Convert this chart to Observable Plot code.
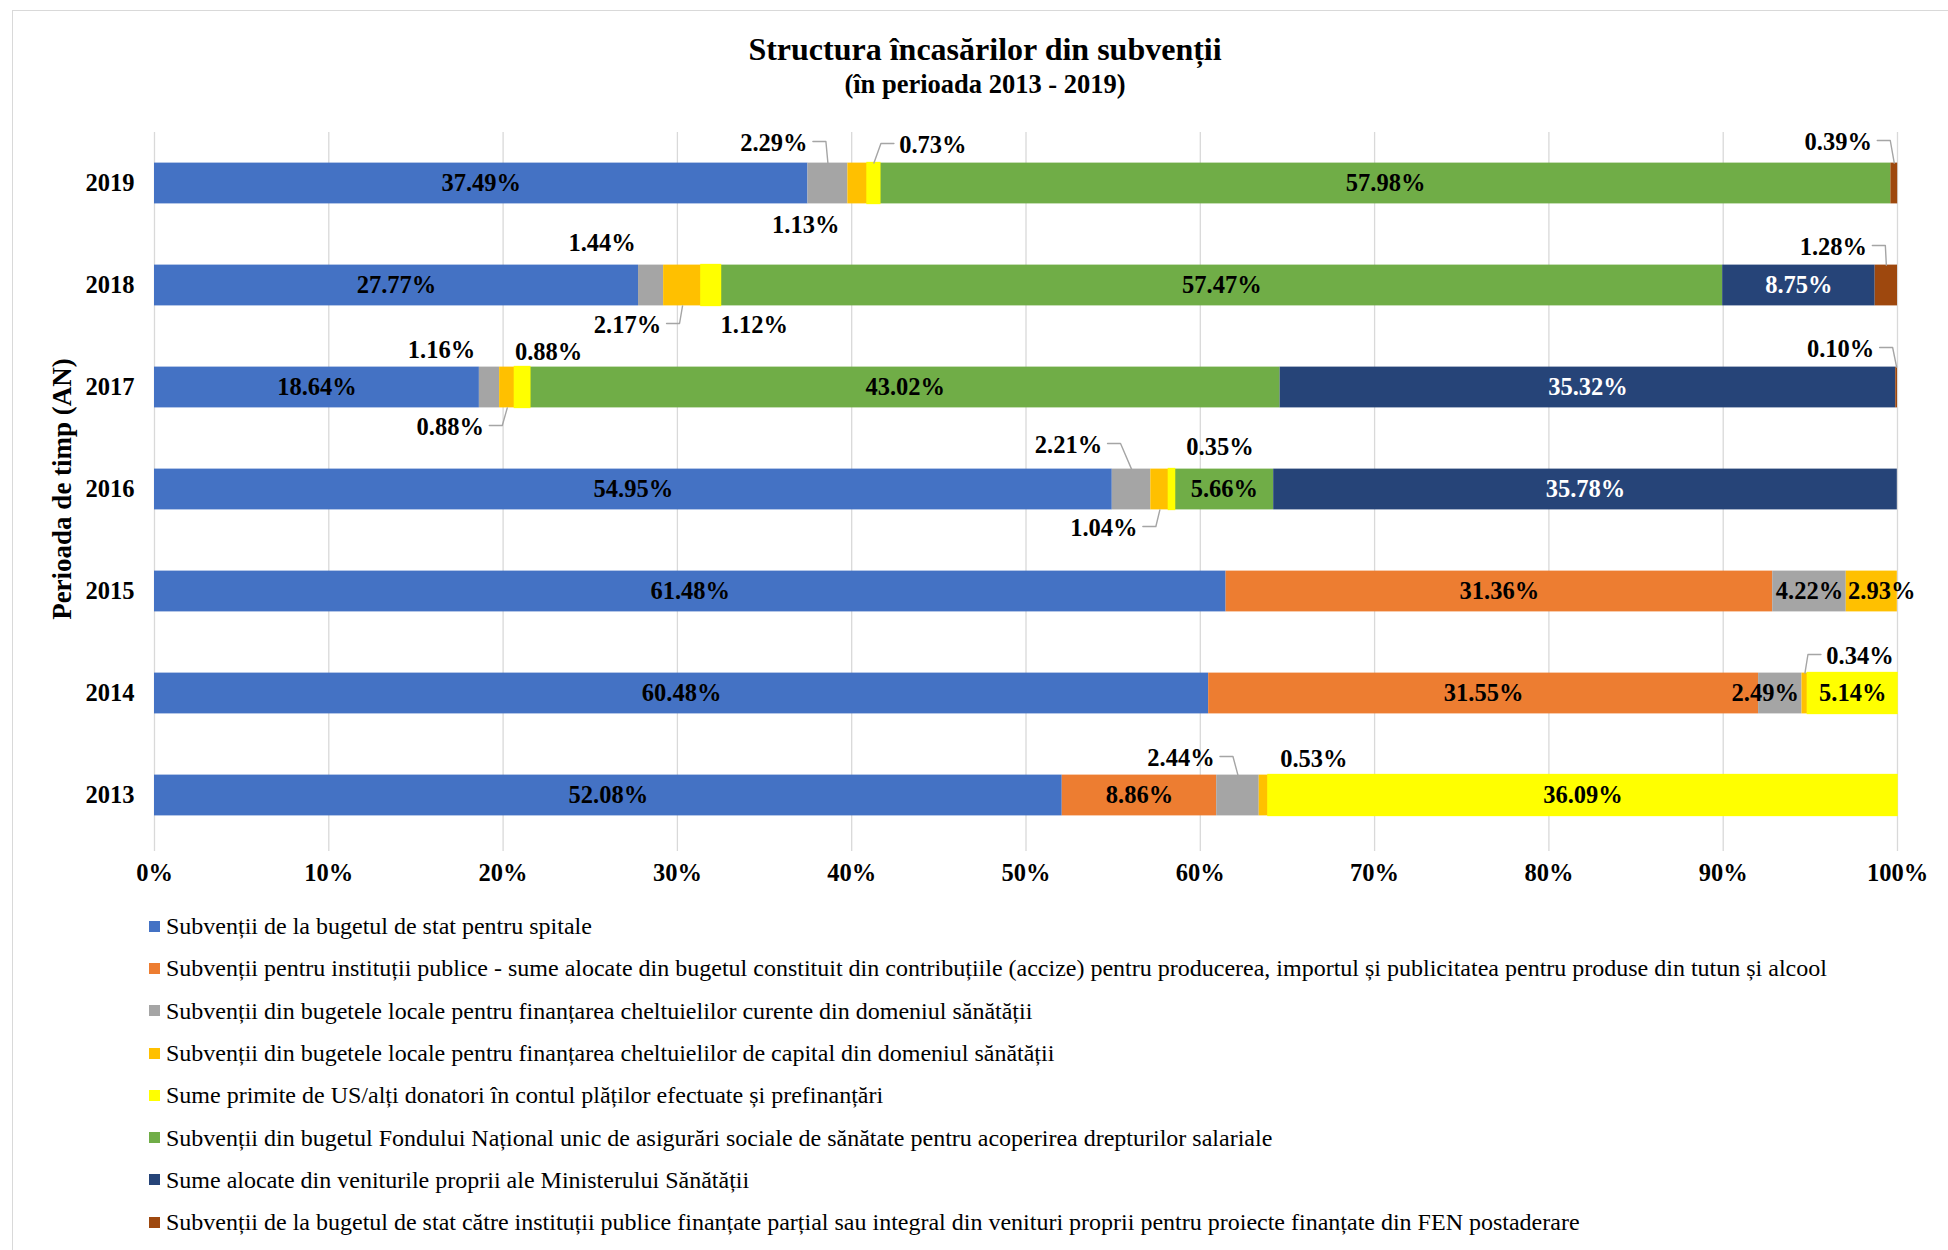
<!DOCTYPE html>
<html><head><meta charset="utf-8">
<script src="https://cdn.jsdelivr.net/npm/d3@7"></script>
<script src="https://cdn.jsdelivr.net/npm/@observablehq/plot@0.6"></script>
<style>
body{margin:0;background:#fff;font-family:"Liberation Serif","Times New Roman",serif;color:#000;}
#wrap{position:relative;width:1948px;height:1250px;overflow:hidden;background:#fff;}
#frame{position:absolute;left:12px;top:10px;width:2000px;height:2000px;border-left:1.5px solid #D9D9D9;border-top:1.5px solid #D9D9D9;}
#title{position:absolute;left:11px;width:1948px;top:33px;text-align:center;font-weight:bold;font-size:32px;line-height:1;}
#subtitle{position:absolute;left:11px;width:1948px;top:71px;text-align:center;font-weight:bold;font-size:26.5px;line-height:1;}
#chart{position:absolute;left:0;top:100px;}
#ylabel{position:absolute;left:62px;top:489px;transform:translate(-50%,-50%) rotate(-90deg);white-space:nowrap;font-weight:bold;font-size:27px;line-height:1;}
#legend{position:absolute;left:149px;top:905px;}
.li{display:flex;align-items:center;height:42.3px;font-size:24px;line-height:1;white-space:nowrap;}
.sw{width:11px;height:11px;margin-right:6px;flex:none;}
</style></head>
<body><div id="wrap">
<div id="frame"></div>
<div id="title">Structura încasărilor din subvenții</div>
<div id="subtitle">(în perioada 2013 - 2019)</div>
<div id="chart"></div>
<div id="ylabel">Perioada de timp (AN)</div>
<div id="legend"></div>
</div>
<script>
const years = [2013, 2014, 2015, 2016, 2017, 2018, 2019];
const seriesNames = [
  "Subvenții de la bugetul de stat pentru spitale",
  "Subvenții pentru instituții publice - sume alocate din bugetul constituit din contribuțiile (accize) pentru producerea, importul și publicitatea pentru produse din tutun și alcool",
  "Subvenții din bugetele locale pentru finanțarea cheltuielilor curente din domeniul sănătății",
  "Subvenții din bugetele locale pentru finanțarea cheltuielilor de capital din domeniul sănătății",
  "Sume primite de US/alți donatori în contul plăților efectuate și prefinanțări",
  "Subvenții din bugetul Fondului Național unic de asigurări sociale de sănătate pentru acoperirea drepturilor salariale",
  "Sume alocate din veniturile proprii ale Ministerului Sănătății",
  "Subvenții de la bugetul de stat către instituții publice finanțate parțial sau integral din venituri proprii pentru proiecte finanțate din FEN postaderare"
];
const seriesColors = ["#4472C4", "#ED7D31", "#A5A5A5", "#FFC000", "#FFFF00", "#70AD47", "#264478", "#9E480E"];
const xTicks = [0, 10, 20, 30, 40, 50, 60, 70, 80, 90, 100];

// values per year (2013..2019), in %
const spitale      = [52.08, 60.48, 61.48, 54.95, 18.64, 27.77, 37.49];
const accize       = [8.86, 31.55, 31.36, 0, 0, 0, 0];
const localeCurente= [2.44, 2.49, 4.22, 2.21, 1.16, 1.44, 2.29];
const localeCapital= [0.53, 0.34, 2.93, 1.04, 0.88, 2.17, 1.13];
const donatori     = [36.09, 5.14, 0, 0.35, 0.88, 1.12, 0.73];
const fnuass       = [0, 0, 0, 5.66, 43.02, 57.47, 57.98];
const ministerul   = [0, 0, 0, 35.78, 35.32, 8.75, 0];
const fen          = [0, 0, 0, 0, 0.10, 1.28, 0.39];
const seriesValues = [spitale, accize, localeCurente, localeCapital, donatori, fnuass, ministerul, fen];

// label placement (pixel offsets from the segment centre), separate from the data
const callouts = [
  {year: 2019, s: 2, dx: -54, dy: -40, leader: true},
  {year: 2019, s: 3, dx: -52, dy: 42, leader: false},
  {year: 2019, s: 4, dx: 59, dy: -38, leader: true},
  {year: 2019, s: 7, dx: -56, dy: -41, leader: true},
  {year: 2018, s: 2, dx: -49, dy: -42, leader: false},
  {year: 2018, s: 3, dx: -55, dy: 40, leader: true},
  {year: 2018, s: 4, dx: 43, dy: 40, leader: false},
  {year: 2018, s: 7, dx: -53, dy: -38, leader: true},
  {year: 2017, s: 2, dx: -48, dy: -37, leader: false},
  {year: 2017, s: 3, dx: -57, dy: 40, leader: true},
  {year: 2017, s: 4, dx: 26, dy: -35, leader: false},
  {year: 2017, s: 7, dx: -56, dy: -38, leader: true},
  {year: 2016, s: 2, dx: -63, dy: -44, leader: true},
  {year: 2016, s: 3, dx: -56, dy: 39, leader: true},
  {year: 2016, s: 4, dx: 48, dy: -42, leader: false},
  {year: 2014, s: 3, dx: 55, dy: -37, leader: true},
  {year: 2013, s: 2, dx: -57, dy: -37, leader: true},
  {year: 2013, s: 3, dx: 50, dy: -36, leader: false}
];
const inBarShift = [{year: 2015, s: 3, dx: 10}, {year: 2014, s: 2, dx: -15}];

const W = 1948, H = 800, mL = 154, mR = 51, mT = 32, mB = 54;
const pxX = (W - mL - mR) / 100, pxY = (H - mT - mB) / years.length;
const half = 0.2;
const fs = 24.5;
const fmt = v => v.toFixed(2) + "%";

const segments = [];
years.forEach((yr, yi) => {
  let acc = 0;
  seriesValues.forEach((arr, si) => {
    const v = arr[yi];
    if (v > 0) segments.push({year: yr, s: si, series: seriesNames[si], v, x1: acc, x2: acc + v, xc: acc + v / 2});
    acc += v;
  });
});
const segOf = (yr, s) => segments.find(d => d.year === yr && d.s === s);

const inLabels = segments.filter(d => !callouts.some(c => c.year === d.year && c.s === d.s)).map(d => {
  const sh = inBarShift.find(c => c.year === d.year && c.s === d.s);
  return {x: d.xc + (sh ? sh.dx / pxX : 0), y: d.year, t: fmt(d.v), white: d.s === 6};
});
const outLabels = callouts.map(c => {
  const d = segOf(c.year, c.s);
  return {x: d.xc + c.dx / pxX, y: c.year - c.dy / pxY, t: fmt(d.v)};
});
const leaders = [];
callouts.filter(c => c.leader).forEach((c, i) => {
  const d = segOf(c.year, c.s);
  const lx = d.xc + c.dx / pxX, ly = c.year - c.dy / pxY + 2 / pxY;
  const side = c.dx < 0 ? 1 : -1;
  const p0 = lx + side * (34 + 5) / pxX;
  const p1 = p0 + side * 13 / pxX;
  const edge = c.dy < 0 ? c.year + half : c.year - half;
  leaders.push({id: i, x: p0, y: ly}, {id: i, x: p1, y: ly}, {id: i, x: d.xc, y: edge});
});

const plot = Plot.plot({
  width: W, height: H,
  marginLeft: mL, marginRight: mR, marginTop: mT, marginBottom: mB,
  style: {fontFamily: "'Liberation Serif','Times New Roman',serif", fontSize: fs + "px", fontWeight: "bold", color: "#000", background: "transparent", overflow: "visible"},
  x: {domain: [0, 100], ticks: xTicks, tickFormat: d => d + "%", tickSize: 0, tickPadding: 17, label: null},
  y: {domain: [years[0] - 0.5, years[years.length - 1] + 0.5], ticks: years, tickFormat: d => String(d), tickSize: 0, tickPadding: 20, label: null},
  color: {domain: seriesNames, range: seriesColors},
  marks: [
    Plot.ruleX(xTicks, {x: d => d, y1: years[0] - 0.55, y2: years[years.length - 1] + 0.5, stroke: "#D9D9D9", strokeWidth: 1.3}),
    Plot.rect(segments, {x1: "x1", x2: "x2", y1: d => d.year - half, y2: d => d.year + half, fill: "series"}),
    Plot.rect(segments.filter(d => d.s === 4), {x1: "x1", x2: "x2", y1: d => d.year - half, y2: d => d.year + half, fill: "series", stroke: "#FFFF00", strokeWidth: 1.5}),
    Plot.line(leaders, {x: "x", y: "y", z: "id", stroke: "#A5A5A5", strokeWidth: 1.4, curve: "linear"}),
    Plot.text(inLabels.filter(d => !d.white), {x: "x", y: "y", text: "t", fill: "#000", fontSize: fs, fontWeight: "bold"}),
    Plot.text(inLabels.filter(d => d.white), {x: "x", y: "y", text: "t", fill: "#fff", fontSize: fs, fontWeight: "bold"}),
    Plot.text(outLabels, {x: "x", y: "y", text: "t", fill: "#000", fontSize: fs, fontWeight: "bold"})
  ]
});
document.getElementById("chart").appendChild(plot);

const leg = document.getElementById("legend");
seriesNames.forEach((n, i) => {
  const row = document.createElement("div");
  row.className = "li";
  const sw = document.createElement("span");
  sw.className = "sw";
  sw.style.background = seriesColors[i];
  const tx = document.createElement("span");
  tx.textContent = n;
  row.appendChild(sw); row.appendChild(tx);
  leg.appendChild(row);
});
</script>
</body></html>
